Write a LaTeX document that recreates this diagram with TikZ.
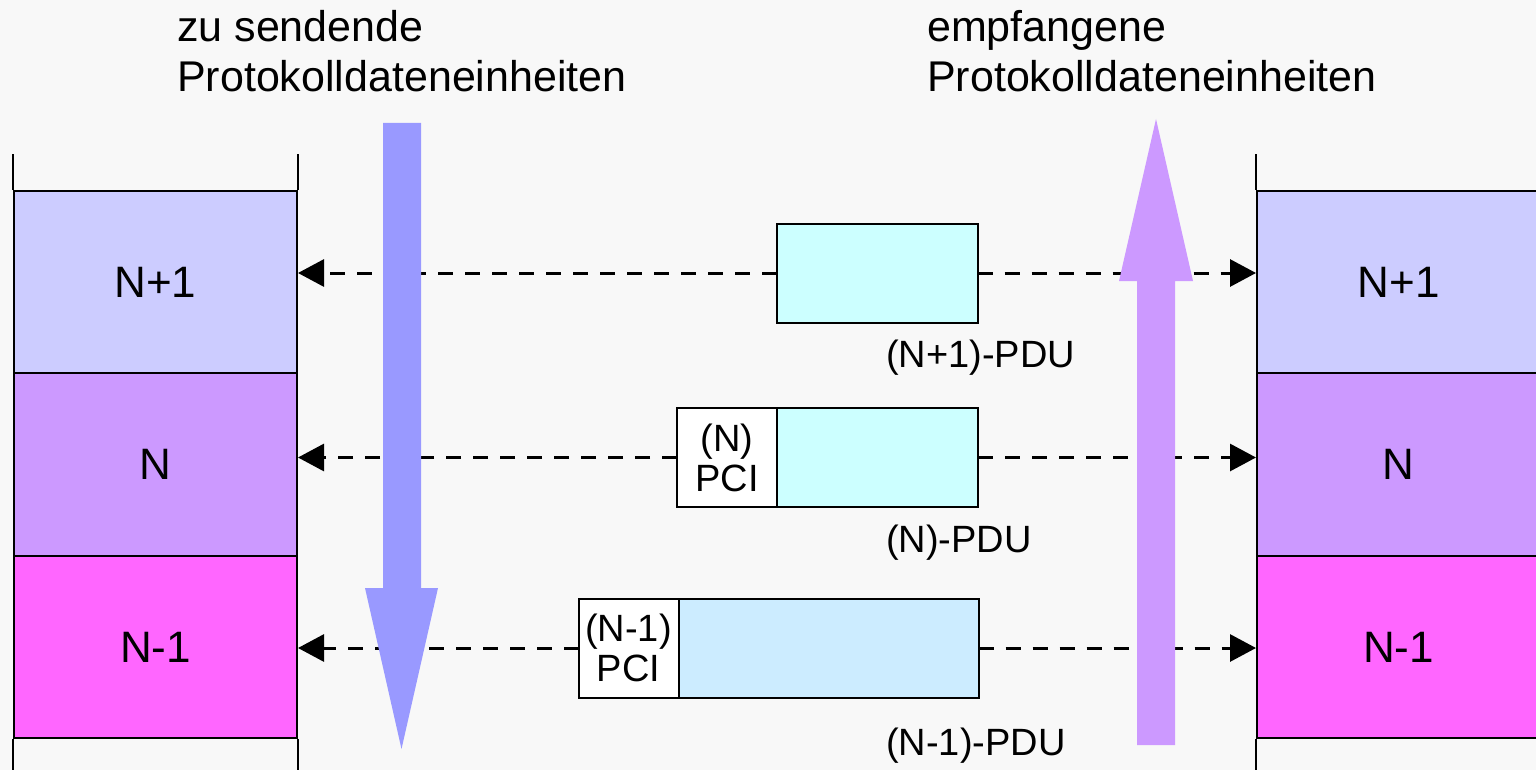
\documentclass[tikz,border=0pt]{standalone}
\usepackage{fontspec}
\setmainfont{Liberation Sans}
\usetikzlibrary{arrows.meta}
\definecolor{bgc}{HTML}{F8F8F8}
\definecolor{lay1}{HTML}{CCCCFF}
\definecolor{lay2}{HTML}{CC99FF}
\definecolor{lay3}{HTML}{FF66FF}
\definecolor{pducyan}{HTML}{CCFFFF}
\definecolor{pdublue}{HTML}{CCECFF}
\definecolor{sendarrow}{HTML}{9999FF}
\definecolor{recvarrow}{HTML}{CC99FF}
\tikzset{
  layerbox/.style={draw=black, line width=2pt, minimum width=283pt, minimum height=182.5pt, inner sep=0pt, font=\fontsize{44}{50}\selectfont},
  pdubox/.style={draw=black, line width=2pt, minimum height=99pt, inner sep=0pt, outer sep=0pt},
  pcibox/.style={pdubox, fill=white, minimum width=100pt, align=center, font=\fontsize{38}{40}\selectfont},
  stub/.style={line width=2pt},
  dasharrow/.style={line width=3pt, dash pattern=on 15pt off 12pt, -{Triangle[length=26pt,width=27pt]}},
  toptext/.style={anchor=base west, inner sep=0pt, align=left, font=\fontsize{43}{50}\selectfont},
  pdulabel/.style={anchor=base west, inner sep=0pt, font=\fontsize{38}{44}\selectfont}
}
\begin{document}
\begin{tikzpicture}[x=1pt,y=-1pt]
\useasboundingbox (0,0) rectangle (1536,770);
\clip (0,0) rectangle (1536,770);
\fill[bgc] (0,0) rectangle (1536,770);

% layer stacks
\node[layerbox, fill=lay1] (lN1) at (155.5,282) {N+1};
\node[layerbox, fill=lay2] (lN)  at (155.5,464.5) {N};
\node[layerbox, fill=lay3] (lNm) at (155.5,647) {N-1};
\node[layerbox, fill=lay1] (rN1) at (1398.5,282) {N+1};
\node[layerbox, fill=lay2] (rN)  at (1398.5,464.5) {N};
\node[layerbox, fill=lay3] (rNm) at (1398.5,647) {N-1};

\draw[stub] (lN1.north west) -- ++(0,-36);
\draw[stub] (lN1.north east) -- ++(0,-36);
\draw[stub] (rN1.north west) -- ++(0,-36);
\draw[stub] (lNm.south west) -- ++(0,40);
\draw[stub] (lNm.south east) -- ++(0,40);
\draw[stub] (rNm.south west) -- ++(0,40);

% PDU boxes
\node[pdubox, fill=pducyan, minimum width=201pt] (p1) at (877,273) {};
\node[pcibox] (p2pci) at (727,457.5) {(N)\\PCI};
\node[pdubox, fill=pducyan, minimum width=201pt, anchor=west] (p2) at (p2pci.east) {};
\node[pcibox] (p3pci) at (628.5,648) {(N-1)\\PCI};
\node[pdubox, fill=pdublue, minimum width=300pt, anchor=west] (p3) at (p3pci.east) {};

% dashed arrows
\draw[dasharrow] (p1.west) -- (p1.west -| lN1.east);
\draw[dasharrow] (p1.east) -- (p1.east -| rN1.west);
\draw[dasharrow] (p2pci.west) -- (p2pci.west -| lN.east);
\draw[dasharrow] (p2.east) -- (p2.east -| rN.west);
\draw[dasharrow] (p3pci.west) -- (p3pci.west -| lNm.east);
\draw[dasharrow] (p3.east) -- (p3.east -| rNm.west);

% big flow arrows
\fill[sendarrow] (383,123) -- (421,123) -- (421,588) -- (438,588) -- (401.5,749) -- (365,588) -- (383,588) -- cycle;
\fill[recvarrow] (1137,745) -- (1175,745) -- (1175,281) -- (1193,281) -- (1156,119) -- (1119,281) -- (1137,281) -- cycle;

% labels
\node[pdulabel] (l1) at (886,367) {(N+1)-PDU};
\node[pdulabel] (l2) at (886,552) {(N)-PDU};
\node[pdulabel] (l3) at (886,755) {(N-1)-PDU};

\node[toptext] (send) at (177,92) {zu sendende\\Protokolldateneinheiten};
\node[toptext] (recv) at (927,92) {empfangene\\Protokolldateneinheiten};
\end{tikzpicture}
\end{document}
